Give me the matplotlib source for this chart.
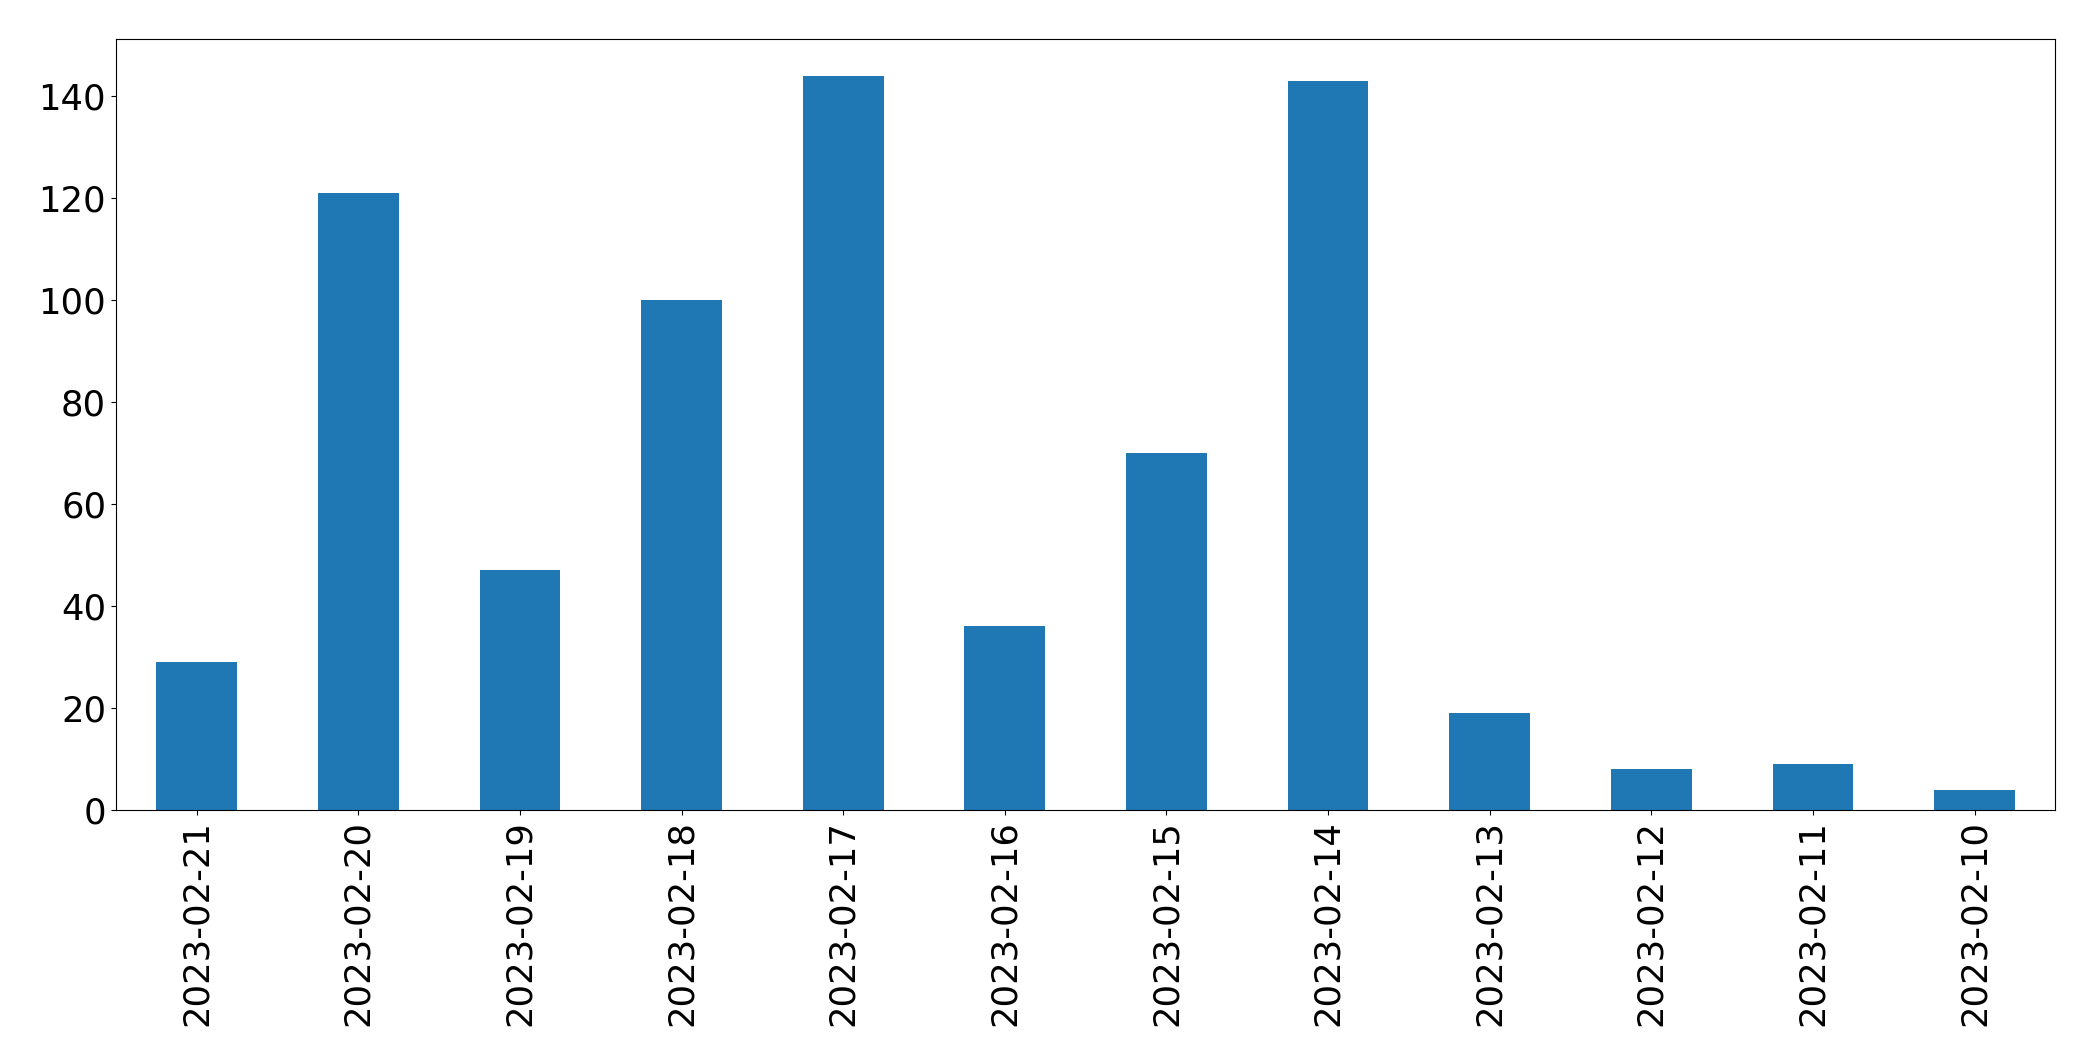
import matplotlib
matplotlib.use('Agg')
import matplotlib.pyplot as plt
import pandas as pd

dates = ['2023-02-21', '2023-02-20', '2023-02-19', '2023-02-18', '2023-02-17', '2023-02-16',
         '2023-02-15', '2023-02-14', '2023-02-13', '2023-02-12', '2023-02-11', '2023-02-10']
counts = [29, 121, 47, 100, 144, 36, 70, 143, 19, 8, 9, 4]

s = pd.Series(counts, index=dates)

fig = plt.figure(figsize=(20.93, 10.61), dpi=100)
ax = fig.add_subplot(111)
s.plot(kind='bar', ax=ax, color='#1f77b4')
ax.tick_params(axis='both', labelsize=25.5)
plt.subplots_adjust(left=0.0554, right=0.982, top=0.963, bottom=0.2366)
plt.savefig('out.png', dpi=100)
